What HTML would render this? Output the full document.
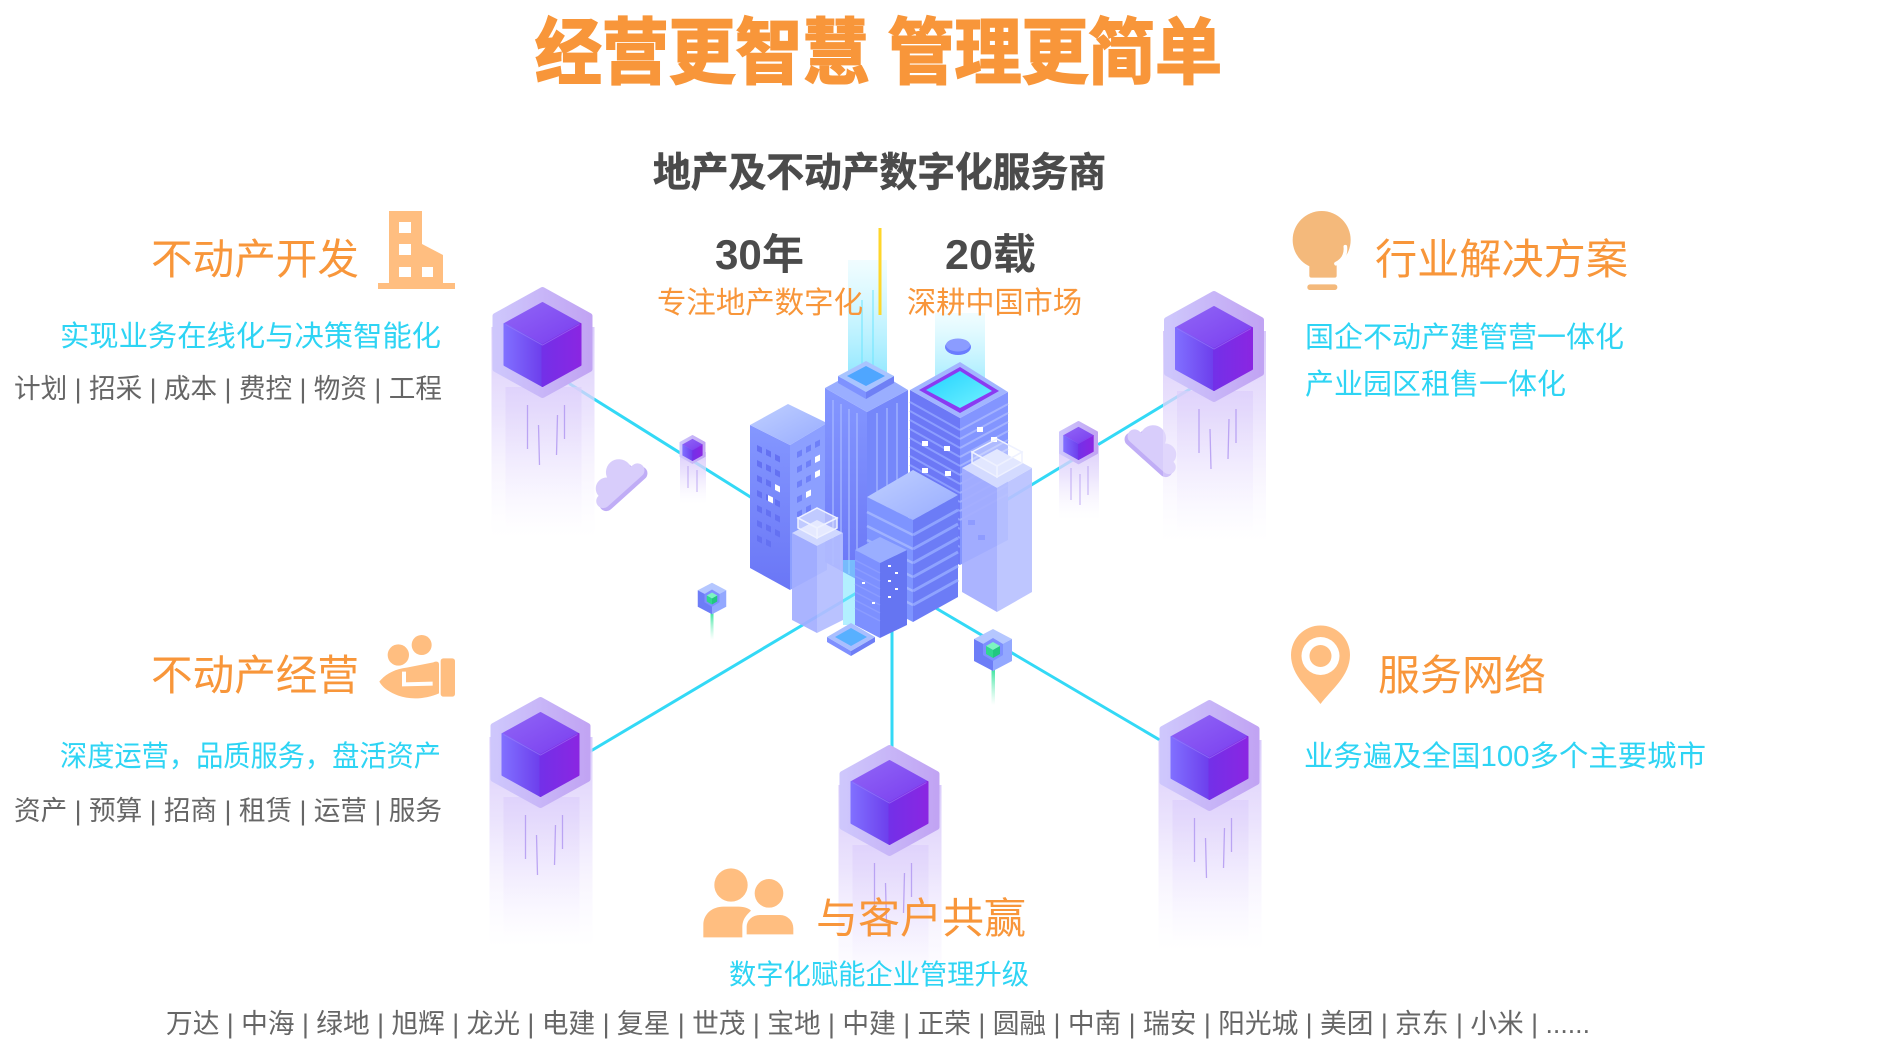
<!DOCTYPE html>
<html><head><meta charset="utf-8"><style>
html,body{margin:0;padding:0;background:#fff;}
svg{display:block;}
text{font-family:"Liberation Sans","Noto Sans CJK SC",sans-serif;}
</style></head><body>
<svg width="1903" height="1046" viewBox="0 0 1903 1046" xmlns="http://www.w3.org/2000/svg">
<defs>
<linearGradient id="hexG" x1="0" y1="0" x2="1" y2="0"><stop offset="0" stop-color="#CEC7FC"/><stop offset="1" stop-color="#C1A4F3"/></linearGradient>
<linearGradient id="topG" x1="0" y1="0" x2="1" y2="1"><stop offset="0" stop-color="#9066F7"/><stop offset="1" stop-color="#7A3DEE"/></linearGradient>
<linearGradient id="leftG" x1="0" y1="0" x2="1" y2="0"><stop offset="0" stop-color="#806FFF"/><stop offset="1" stop-color="#6D3EEC"/></linearGradient>
<linearGradient id="rightG" x1="0" y1="0" x2="1" y2="0"><stop offset="0" stop-color="#7330E8"/><stop offset="1" stop-color="#8A26E2"/></linearGradient>
<linearGradient id="colG" x1="0" y1="0" x2="0" y2="1"><stop offset="0" stop-color="#D6C6FB" stop-opacity="0.9"/><stop offset="0.4" stop-color="#E3D8FC" stop-opacity="0.7"/><stop offset="1" stop-color="#F6F2FF" stop-opacity="0"/></linearGradient>
<linearGradient id="colG2" x1="0" y1="0" x2="0" y2="1"><stop offset="0" stop-color="#DCCEFB" stop-opacity="0.7"/><stop offset="1" stop-color="#F3EEFF" stop-opacity="0"/></linearGradient>
<linearGradient id="beamG" x1="0" y1="0" x2="0" y2="1"><stop offset="0" stop-color="#9EEFFF" stop-opacity="0.15"/><stop offset="1" stop-color="#5FDDFF" stop-opacity="0.7"/></linearGradient>
<linearGradient id="greenG" x1="0" y1="0" x2="0" y2="1"><stop offset="0" stop-color="#33E39B"/><stop offset="1" stop-color="#7DF0C4" stop-opacity="0"/></linearGradient>
<linearGradient id="bLeft" x1="0" y1="0" x2="0" y2="1"><stop offset="0" stop-color="#8497FF"/><stop offset="1" stop-color="#6A76F6"/></linearGradient>
<linearGradient id="bTop" x1="0" y1="0" x2="1" y2="1"><stop offset="0" stop-color="#C0D0FF"/><stop offset="1" stop-color="#98ACFF"/></linearGradient>
<linearGradient id="screenG" x1="0" y1="0" x2="1" y2="1"><stop offset="0" stop-color="#22D2FF"/><stop offset="1" stop-color="#72F2FF"/></linearGradient>

<g id="cubeBody">
<path d="M0,3 L47,29 L47,82 L0,108 L-47,82 L-47,29Z" fill="url(#hexG)" stroke="url(#hexG)" stroke-width="6" stroke-linejoin="round"/>
<path d="M0,16 L38,37 L0,58 L-38,37Z" fill="url(#topG)" stroke="url(#topG)" stroke-width="2" stroke-linejoin="round"/>
<path d="M-38,37 L0,58 L0,99 L-38,78Z" fill="url(#leftG)" stroke="url(#leftG)" stroke-width="2" stroke-linejoin="round"/>
<path d="M0,58 L38,37 L38,78 L0,99Z" fill="url(#rightG)" stroke="url(#rightG)" stroke-width="2" stroke-linejoin="round"/>
<path d="M-37,37.5 L0,58 L37,37.5" fill="none" stroke="#9C7BF8" stroke-width="1" opacity="0.6"/>
</g>
<g id="cube">
<rect x="-51" y="40" width="103" height="212" fill="url(#colG)"/>
<rect x="-37" y="100" width="76" height="145" fill="url(#colG2)"/>
<g stroke="#B39AF2" stroke-width="1.3" opacity="0.85">
<line x1="-15" y1="118" x2="-15" y2="162"/><line x1="-4" y1="138" x2="-3" y2="178"/><line x1="15" y1="128" x2="14" y2="168"/><line x1="22" y1="118" x2="22" y2="152"/>
</g>
<use href="#cubeBody"/>
</g>
<g id="bcube">
<path d="M0,1 L19,11 L0,21 L-19,11Z" fill="#B5C7FF"/>
<path d="M-19,11 L0,21 L0,43 L-19,33Z" fill="#6D7DF7"/>
<path d="M0,21 L19,11 L19,33 L0,43Z" fill="#93A8FF"/>
<path d="M0,10 L10,16 L10,27 L0,33 L-10,27 L-10,16Z" fill="#7E90FF"/>
<path d="M0,14 L7,18 L0,22 L-7,18Z" fill="#7CF5C0"/>
<path d="M-7,18 L0,22 L0,30 L-7,26Z" fill="#2FD88E"/>
<path d="M0,22 L7,18 L7,26 L0,30Z" fill="#22C77F"/>
</g>
<g id="cloud">
<rect x="-30" y="-2" width="60" height="14" rx="7"/>
<circle cx="-12" cy="-2" r="11"/>
<circle cx="8" cy="-6" r="13"/>
</g>
</defs>

<!-- Title -->
<text x="535" y="78" font-size="72" font-weight="bold" fill="#F8963A" stroke="#F8963A" stroke-width="2" textLength="687" lengthAdjust="spacingAndGlyphs">经营更智慧 管理更简单</text>
<text x="653" y="186" font-size="40" font-weight="bold" fill="#4B4B4B" stroke="#4B4B4B" stroke-width="0.6" textLength="453" lengthAdjust="spacingAndGlyphs">地产及不动产数字化服务商</text>

<!-- light beams -->
<rect x="848" y="260" width="39" height="120" fill="url(#beamG)"/>
<line x1="862" y1="300" x2="862" y2="375" stroke="#6FE6FF" stroke-width="1.5" opacity="0.7"/>
<line x1="873" y1="290" x2="873" y2="375" stroke="#6FE6FF" stroke-width="1.5" opacity="0.7"/>
<rect x="935" y="313" width="50" height="85" fill="url(#beamG)"/>

<rect x="878.5" y="228" width="3" height="87" fill="#FFD62A"/>
<text x="715" y="269" font-size="42" font-weight="bold" fill="#4B4B4B" textLength="89" lengthAdjust="spacingAndGlyphs">30年</text>
<text x="945" y="269" font-size="42" font-weight="bold" fill="#4B4B4B" textLength="91" lengthAdjust="spacingAndGlyphs">20载</text>
<text x="657" y="313" font-size="30" fill="#F8963A" textLength="206" lengthAdjust="spacingAndGlyphs">专注地产数字化</text>
<text x="907" y="313" font-size="30" fill="#F8963A" textLength="175" lengthAdjust="spacingAndGlyphs">深耕中国市场</text>

<!-- left top -->
<text x="151" y="274" font-size="42" fill="#F8963A" textLength="208" lengthAdjust="spacingAndGlyphs">不动产开发</text>
<g fill="#FFBE80">
<rect x="378" y="283" width="77" height="6"/>
<rect x="389" y="211" width="33" height="74"/>
<path d="M422,244 L443,255 L443,285 L422,285Z"/>
</g>
<g fill="#fff">
<rect x="399" y="222" width="12" height="11"/><rect x="399" y="244" width="12" height="11"/><rect x="399" y="267" width="12" height="10"/><rect x="422" y="267" width="11" height="10"/>
</g>
<text x="60" y="346" font-size="29" fill="#2ED4F4" textLength="381" lengthAdjust="spacingAndGlyphs">实现业务在线化与决策智能化</text>
<text x="14" y="398" font-size="27" fill="#666" textLength="428" lengthAdjust="spacingAndGlyphs">计划 | 招采 | 成本 | 费控 | 物资 | 工程</text>

<!-- right top -->
<g transform="translate(1280,205) scale(0.3333)" fill="#F4B97B">
<circle cx="125" cy="105" r="87"/>
<rect x="88" y="165" width="82" height="53" rx="6"/>
<rect x="82" y="238" width="90" height="17" rx="8"/>
<path d="M196,125 Q200,160 168,176" fill="none" stroke="#fff" stroke-width="11" stroke-linecap="round"/>
</g>
<text x="1375" y="274" font-size="42" fill="#F8963A" textLength="253" lengthAdjust="spacingAndGlyphs">行业解决方案</text>
<text x="1305" y="347" font-size="29" fill="#2ED4F4" textLength="319" lengthAdjust="spacingAndGlyphs">国企不动产建管营一体化</text>
<text x="1305" y="394" font-size="29" fill="#2ED4F4" textLength="261" lengthAdjust="spacingAndGlyphs">产业园区租售一体化</text>

<!-- left bottom -->
<text x="151" y="690" font-size="42" fill="#F8963A" textLength="208" lengthAdjust="spacingAndGlyphs">不动产经营</text>
<g transform="translate(370,625) scale(0.3333)" fill="#FFBE80">
<circle cx="85" cy="90" r="32"/>
<circle cx="155" cy="60" r="30"/>
<path d="M28,170 C45,148 75,132 110,128 L190,112 C200,108 207,110 207,118 L207,205 C170,222 120,225 85,212 C55,200 38,188 28,170 Z"/>
<path d="M102,140 L102,178 L188,176" fill="none" stroke="#fff" stroke-width="12"/>
<rect x="212" y="100" width="43" height="115" rx="8"/>
</g>
<text x="60" y="766" font-size="29" fill="#2ED4F4" textLength="381" lengthAdjust="spacingAndGlyphs">深度运营，品质服务，盘活资产</text>
<text x="14" y="820" font-size="27" fill="#666" textLength="428" lengthAdjust="spacingAndGlyphs">资产 | 预算 | 招商 | 租赁 | 运营 | 服务</text>

<!-- right bottom -->
<path d="M1320.5,704 C1310,690 1291,676 1291,655 A29.5,29.5 0 0 1 1350,655 C1350,676 1331,690 1320.5,704Z" fill="#FFBE80"/>
<circle cx="1320.5" cy="656" r="19" fill="#fff"/>
<circle cx="1320.5" cy="656" r="11" fill="#FFBE80"/>
<text x="1378" y="690" font-size="42" fill="#F8963A" textLength="168" lengthAdjust="spacingAndGlyphs">服务网络</text>
<text x="1304" y="766" font-size="29" fill="#2ED4F4" textLength="402" lengthAdjust="spacingAndGlyphs">业务遍及全国100多个主要城市</text>

<!-- connectors -->
<g stroke="#33D9F6" stroke-width="3" stroke-linecap="round">
<line x1="570" y1="384" x2="800" y2="528"/>
<line x1="1195" y1="386" x2="980" y2="516"/>
<line x1="579" y1="758" x2="880" y2="579"/>
<line x1="892" y1="590" x2="892" y2="760"/>
<line x1="900" y1="587" x2="1170" y2="746"/>
</g>

<!-- clouds -->
<use href="#cloud" transform="translate(620,485) rotate(-42)" fill="#C0ADF6"/>
<use href="#cloud" transform="translate(617,482) rotate(-42)" fill="#D8CDFB"/>
<use href="#cloud" transform="translate(1152,451) scale(-1,1) rotate(-42)" fill="#C0ADF6"/>
<use href="#cloud" transform="translate(1155,448) scale(-1,1) rotate(-42)" fill="#D8CDFB"/>

<!-- small purple cubes -->
<rect x="680" y="452" width="26" height="52" fill="url(#colG)"/>
<g stroke="#B39AF2" stroke-width="1" opacity="0.8"><line x1="688" y1="466" x2="688" y2="488"/><line x1="697" y1="470" x2="697" y2="492"/></g>
<use href="#cubeBody" transform="translate(692.5,435) scale(0.26)"/>
<rect x="1059" y="445" width="40" height="75" fill="url(#colG)"/>
<g stroke="#B39AF2" stroke-width="1" opacity="0.8"><line x1="1071" y1="468" x2="1071" y2="500"/><line x1="1080" y1="474" x2="1080" y2="505"/><line x1="1088" y1="466" x2="1088" y2="495"/></g>
<use href="#cubeBody" transform="translate(1078.5,421) scale(0.39)"/>

<!-- Buildings -->
<!-- A -->
<polygon points="750,425 790,445 790,590 750,568" fill="url(#bLeft)"/>
<polygon points="790,445 827,423 827,570 790,590" fill="#8C9FFF"/>
<polygon points="750,425 788,404 827,423 790,445" fill="url(#bTop)"/>
<g fill="#6471F2">
<path d="M757,445 l5,2.5 v6 l-5,-2.5z"/><path d="M766,449 l5,2.5 v6 l-5,-2.5z"/><path d="M775,454 l5,2.5 v6 l-5,-2.5z"/>
<path d="M757,460 l5,2.5 v6 l-5,-2.5z"/><path d="M766,464 l5,2.5 v6 l-5,-2.5z"/><path d="M775,469 l5,2.5 v6 l-5,-2.5z"/>
<path d="M757,475 l5,2.5 v6 l-5,-2.5z"/><path d="M766,479 l5,2.5 v6 l-5,-2.5z"/><path d="M775,484 l5,2.5 v6 l-5,-2.5z"/>
<path d="M757,490 l5,2.5 v6 l-5,-2.5z"/><path d="M766,494 l5,2.5 v6 l-5,-2.5z"/><path d="M775,499 l5,2.5 v6 l-5,-2.5z"/>
<path d="M757,505 l5,2.5 v6 l-5,-2.5z"/><path d="M766,509 l5,2.5 v6 l-5,-2.5z"/><path d="M775,514 l5,2.5 v6 l-5,-2.5z"/>
<path d="M757,520 l5,2.5 v6 l-5,-2.5z"/><path d="M766,524 l5,2.5 v6 l-5,-2.5z"/><path d="M775,529 l5,2.5 v6 l-5,-2.5z"/>
<path d="M757,535 l5,2.5 v6 l-5,-2.5z"/><path d="M766,539 l5,2.5 v6 l-5,-2.5z"/>
</g>
<g fill="#6F80F8">
<path d="M797,452 l5,-2.5 v6 l-5,2.5z"/><path d="M806,447 l5,-2.5 v6 l-5,2.5z"/><path d="M815,442 l5,-2.5 v6 l-5,2.5z"/>
<path d="M797,467 l5,-2.5 v6 l-5,2.5z"/><path d="M806,462 l5,-2.5 v6 l-5,2.5z"/>
<path d="M797,482 l5,-2.5 v6 l-5,2.5z"/><path d="M806,477 l5,-2.5 v6 l-5,2.5z"/>
<path d="M797,497 l5,-2.5 v6 l-5,2.5z"/><path d="M806,492 l5,-2.5 v6 l-5,2.5z"/>
<path d="M797,512 l5,-2.5 v6 l-5,2.5z"/><path d="M806,507 l5,-2.5 v6 l-5,2.5z"/>
</g>
<g fill="#fff"><path d="M815,457 l5,-2.5 v6 l-5,2.5z"/><path d="M815,472 l5,-2.5 v6 l-5,2.5z"/><path d="M806,492 l5,-2.5 v6 l-5,2.5z"/><path d="M775,484 l5,2.5 v6 l-5,-2.5z"/><path d="M768,495 l5,2.5 v6 l-5,-2.5z"/></g>

<!-- B -->
<polygon points="825,388 867,412 867,585 825,562" fill="url(#bLeft)"/>
<polygon points="867,412 908,390 908,562 867,585" fill="#7587FA"/>
<polygon points="825,388 867,365 908,390 867,412" fill="#9AAEFF"/>
<g stroke="#A6B7FF" stroke-width="1.3">
<line x1="833" y1="400" x2="833" y2="565"/><line x1="841" y1="404" x2="841" y2="570"/><line x1="849" y1="409" x2="849" y2="574"/><line x1="857" y1="413" x2="857" y2="578"/>
<line x1="877" y1="413" x2="877" y2="578"/><line x1="887" y1="408" x2="887" y2="572"/><line x1="897" y1="403" x2="897" y2="566"/>
</g>
<polygon points="838,376 866,392 866,399 838,383" fill="#7E92FF"/>
<polygon points="866,392 894,376 894,383 866,399" fill="#6F80F5"/>
<polygon points="838,376 866,361 894,376 866,392" fill="#A9C4FF"/>
<polygon points="847,376 866,366 885,376 866,386" fill="#4FA6FF"/>

<!-- C -->
<polygon points="910,390 960,418 960,565 910,540" fill="#6C78F6"/>
<polygon points="960,418 1008,392 1008,540 960,565" fill="#8395FF"/>
<g stroke="#8C9DFF" stroke-width="2">
<line x1="910" y1="402" x2="960" y2="430"/><line x1="910" y1="411" x2="960" y2="439"/><line x1="910" y1="420" x2="960" y2="448"/><line x1="910" y1="429" x2="960" y2="457"/><line x1="910" y1="438" x2="960" y2="466"/><line x1="910" y1="447" x2="960" y2="475"/><line x1="910" y1="456" x2="960" y2="484"/><line x1="910" y1="465" x2="960" y2="493"/><line x1="910" y1="474" x2="960" y2="502"/><line x1="910" y1="483" x2="960" y2="511"/><line x1="910" y1="492" x2="960" y2="520"/><line x1="910" y1="501" x2="960" y2="529"/><line x1="910" y1="510" x2="960" y2="538"/><line x1="910" y1="519" x2="960" y2="547"/>
</g>
<g stroke="#A3B2FF" stroke-width="2">
<line x1="960" y1="430" x2="1008" y2="404"/><line x1="960" y1="439" x2="1008" y2="413"/><line x1="960" y1="448" x2="1008" y2="422"/><line x1="960" y1="457" x2="1008" y2="431"/><line x1="960" y1="466" x2="1008" y2="440"/><line x1="960" y1="475" x2="1008" y2="449"/><line x1="960" y1="484" x2="1008" y2="458"/><line x1="960" y1="493" x2="1008" y2="467"/><line x1="960" y1="502" x2="1008" y2="476"/><line x1="960" y1="511" x2="1008" y2="485"/><line x1="960" y1="520" x2="1008" y2="494"/>
</g>
<polygon points="910,390 960,362 1008,392 960,418" fill="#A2B5FF"/>
<polygon points="919,390 960,367 999,391 960,413" fill="#8A3BF2"/>
<polygon points="926,390 960,371 992,391 960,408" fill="url(#screenG)"/>
<g fill="#fff"><rect x="922" y="441" width="6" height="5"/><rect x="944" y="446" width="6" height="5"/><rect x="922" y="468" width="6" height="5"/><rect x="945" y="471" width="6" height="5"/><rect x="977" y="427" width="6" height="5"/><rect x="991" y="437" width="6" height="5"/></g>
<ellipse cx="958" cy="347" rx="13" ry="8" fill="#6A7DFF"/>
<ellipse cx="958" cy="345" rx="12" ry="6.5" fill="#8B9CFF"/>

<!-- E -->
<polygon points="962,468 997,488 997,612 962,592" fill="#A4AEFF" opacity="0.92"/>
<polygon points="997,488 1032,468 1032,592 997,612" fill="#B8C1FF" opacity="0.92"/>
<polygon points="962,468 997,449 1032,468 997,488" fill="#D3DAFF"/>
<g stroke="#EEF1FF" stroke-width="1.5" fill="#fff" fill-opacity="0.35">
<polygon points="972,463 997,477 997,466 972,452"/>
<polygon points="997,477 1022,463 1022,452 997,466"/>
<polygon points="972,452 997,439 1022,452 997,466"/>
</g>
<g fill="#8E9BFF"><rect x="968" y="520" width="7" height="5"/><rect x="978" y="535" width="7" height="5"/></g>

<!-- D -->
<polygon points="867,497 913,520 913,622 867,598" fill="#7E94FF"/>
<polygon points="913,520 958,495 958,597 913,622" fill="#6C7CF6"/>
<g stroke="#9FB2FF" stroke-width="2.5">
<line x1="867" y1="512" x2="913" y2="535"/><line x1="867" y1="526" x2="913" y2="549"/><line x1="867" y1="540" x2="913" y2="563"/><line x1="867" y1="554" x2="913" y2="577"/><line x1="867" y1="568" x2="913" y2="591"/><line x1="867" y1="582" x2="913" y2="605"/>
</g>
<g stroke="#8FA3FF" stroke-width="3">
<line x1="913" y1="535" x2="958" y2="510"/><line x1="913" y1="549" x2="958" y2="524"/><line x1="913" y1="563" x2="958" y2="538"/><line x1="913" y1="577" x2="958" y2="552"/><line x1="913" y1="591" x2="958" y2="566"/><line x1="913" y1="605" x2="958" y2="580"/>
</g>
<polygon points="867,497 913,470 958,495 913,520" fill="url(#bTop)"/>

<!-- F -->
<rect x="843" y="560" width="12" height="65" fill="#7FE6FF" opacity="0.6"/>
<polygon points="792,533 817,546 817,633 792,620" fill="#A3AEFF" opacity="0.92"/>
<polygon points="817,546 843,533 843,620 817,633" fill="#B3BDFF" opacity="0.92"/>
<polygon points="792,533 817,520 843,533 817,546" fill="#D0D8FF"/>
<g stroke="#EEF1FF" stroke-width="1.5" fill="#fff" fill-opacity="0.45">
<polygon points="798,528 817,538 817,528 798,518"/>
<polygon points="817,538 837,528 837,518 817,528"/>
<polygon points="798,518 817,508 837,518 817,528"/>
</g>

<!-- G -->
<polygon points="855,550 880,563 880,638 855,625" fill="#7D90FF"/>
<polygon points="880,563 907,550 907,625 880,638" fill="#6575F2"/>
<polygon points="855,550 880,537 907,550 880,563" fill="#9AAEFF"/>
<g stroke="#8B9CFF" stroke-width="1.5">
<line x1="855" y1="560" x2="880" y2="573"/><line x1="855" y1="568" x2="880" y2="581"/><line x1="855" y1="576" x2="880" y2="589"/><line x1="855" y1="584" x2="880" y2="597"/><line x1="855" y1="592" x2="880" y2="605"/><line x1="855" y1="600" x2="880" y2="613"/><line x1="855" y1="608" x2="880" y2="621"/>
</g>
<g fill="#fff"><rect x="888" y="565" width="3" height="2"/><rect x="895" y="572" width="3" height="2"/><rect x="888" y="580" width="3" height="2"/><rect x="895" y="588" width="3" height="2"/><rect x="888" y="596" width="3" height="2"/><rect x="862" y="582" width="3" height="2"/><rect x="872" y="602" width="3" height="2"/></g>

<!-- platform -->
<polygon points="827,637 851,651 851,656 827,642" fill="#7F90FF"/>
<polygon points="851,651 875,637 875,642 851,656" fill="#6E7EF6"/>
<polygon points="827,637 851,623 875,637 851,651" fill="#A9BEFF"/>
<polygon points="835,637 851,628 867,637 851,646" fill="#58B0FF"/>

<!-- small blue cubes -->
<rect x="710.5" y="612" width="3" height="28" fill="url(#greenG)"/>
<use href="#bcube" transform="translate(712,582) scale(0.75)"/>
<rect x="991.5" y="668" width="3.5" height="37" fill="url(#greenG)"/>
<use href="#bcube" transform="translate(993,628)"/>

<!-- big cubes -->
<use href="#cube" transform="translate(542.5,287)"/>
<use href="#cube" transform="translate(1214,291)"/>
<use href="#cube" transform="translate(540.5,697)"/>
<use href="#cube" transform="translate(889.5,745)"/>
<use href="#cube" transform="translate(1209.5,700)"/>

<!-- bottom -->
<g transform="translate(695,860) scale(0.3333)" fill="#FFBE80">
<circle cx="108" cy="75" r="50"/>
<circle cx="222" cy="100" r="43"/>
<path d="M25,232 V195 C25,162 52,140 85,140 H130 C150,140 162,146 168,152 L160,160 C148,172 142,185 142,200 V232 Z"/>
<path d="M150,228 V200 C150,178 170,160 195,160 H255 C280,160 300,180 300,205 V228 Z" stroke="#fff" stroke-width="10"/>
</g>
<text x="816" y="933" font-size="42" fill="#F8963A" textLength="210" lengthAdjust="spacingAndGlyphs">与客户共赢</text>
<text x="729" y="984" font-size="28" fill="#2ED4F4" textLength="300" lengthAdjust="spacingAndGlyphs">数字化赋能企业管理升级</text>
<text x="166" y="1033" font-size="27" fill="#666" textLength="1424" lengthAdjust="spacingAndGlyphs">万达 | 中海 | 绿地 | 旭辉 | 龙光 | 电建 | 复星 | 世茂 | 宝地 | 中建 | 正荣 | 圆融 | 中南 | 瑞安 | 阳光城 | 美团 | 京东 | 小米 | ......</text>
</svg>
</body></html>
